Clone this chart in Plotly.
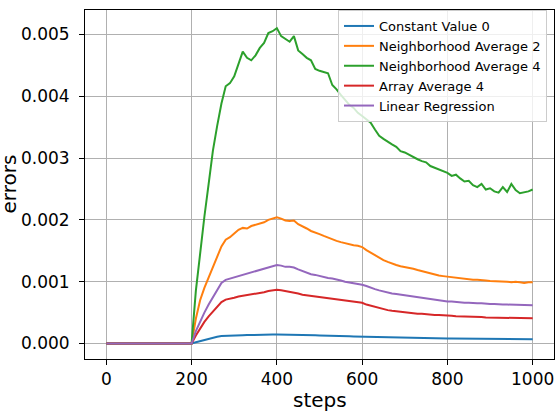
import plotly.graph_objects as go

steps = list(range(0, 1001, 10))
zeros = [0.0] * 21  # steps 0..200

constant_value_0 = zeros + [
    0.00002, 0.00004, 0.00006, 0.00008, 0.00009, 0.00011, 0.00012, 0.000125, 0.00013, 0.00013,
    0.000132, 0.000135, 0.000137, 0.00014, 0.00014, 0.00014, 0.000142, 0.000145, 0.000145, 0.000145,
    0.000145, 0.000145, 0.000143, 0.00014, 0.00014, 0.000138, 0.000137, 0.000135, 0.000133, 0.00013,
    0.00013, 0.000128, 0.000126, 0.000125, 0.000122, 0.00012, 0.000118, 0.000115, 0.000113, 0.00011,
    0.000108, 0.000105, 0.000103, 0.0001, 0.0001, 0.000098, 0.000097, 0.000095, 0.000093, 0.00009,
    0.00009, 0.000088, 0.000087, 0.000086, 0.000085, 0.000084, 0.000083, 0.000082, 0.000081, 0.00008,
    0.00008, 0.000079, 0.000078, 0.000078, 0.000077, 0.000077, 0.000076, 0.000076, 0.000075, 0.000075,
    0.000074, 0.000074, 0.000073, 0.000073, 0.000072, 0.000072, 0.000071, 0.000071, 0.00007, 0.00007,
]

neighborhood_average_2 = zeros + [
    0.00040, 0.00070, 0.00090, 0.00107, 0.00125, 0.00141, 0.00157, 0.00168, 0.00172, 0.00178,
    0.00184, 0.00187, 0.00186, 0.00190, 0.00192, 0.00194, 0.00196, 0.00200, 0.00202, 0.00204,
    0.00202, 0.00199, 0.00198, 0.00199, 0.00193, 0.00190, 0.00186, 0.00182, 0.00180, 0.00177,
    0.00174, 0.00171, 0.00169, 0.00166, 0.00164, 0.00162, 0.00161, 0.00159, 0.00158, 0.00156,
    0.00151, 0.00147, 0.00143, 0.00138, 0.00135, 0.00132, 0.00129, 0.00127, 0.00125, 0.00124,
    0.00123, 0.00121, 0.00119, 0.00117, 0.00115, 0.00114, 0.00112, 0.00110, 0.00109, 0.00108,
    0.00107, 0.00106, 0.00105, 0.00105, 0.00104, 0.00103, 0.00103, 0.00103, 0.00102, 0.00101,
    0.00101, 0.00100, 0.00101, 0.00100, 0.00099, 0.00100, 0.00099, 0.00098, 0.00099, 0.00099,
]

neighborhood_average_4 = zeros + [
    0.00085, 0.00148, 0.00205, 0.00258, 0.00312, 0.00352, 0.00388, 0.00416, 0.00421, 0.00432,
    0.00452, 0.00472, 0.00462, 0.00458, 0.00466, 0.00478, 0.00486, 0.00502, 0.00505, 0.00510,
    0.00497, 0.00492, 0.00488, 0.00497, 0.00474, 0.00468, 0.00462, 0.00458, 0.00444, 0.00441,
    0.00439, 0.00437, 0.00418, 0.00411, 0.00402, 0.00394, 0.00386, 0.00381, 0.00373, 0.00368,
    0.00362, 0.00357, 0.00346, 0.00336, 0.00331, 0.00326, 0.00322, 0.00318, 0.00311, 0.00309,
    0.00305, 0.00301, 0.00298, 0.00295, 0.00293, 0.00287, 0.00284, 0.00281, 0.00278, 0.00276,
    0.00271, 0.00273, 0.00267, 0.00262, 0.00263, 0.00256, 0.00253, 0.00258, 0.00249, 0.00251,
    0.00246, 0.00244, 0.00253, 0.00245, 0.00258, 0.00248, 0.00243, 0.00244, 0.00246, 0.00249,
]

array_average_4 = zeros + [
    0.00013, 0.00025, 0.00035, 0.00044, 0.00052, 0.00060, 0.00067, 0.00071, 0.00072, 0.00074,
    0.00076, 0.00077, 0.00078, 0.00079, 0.00080, 0.00081, 0.00083, 0.00085, 0.00086, 0.00087,
    0.00086, 0.00085, 0.00084, 0.00083, 0.00081, 0.00079, 0.00078, 0.00077, 0.00076, 0.00075,
    0.00074, 0.00073, 0.00072, 0.00071, 0.00071, 0.00070, 0.00069, 0.00068, 0.00067, 0.00066,
    0.00063, 0.00061, 0.00059, 0.00057, 0.00056, 0.00054, 0.00053, 0.00052, 0.00051, 0.00050,
    0.00049, 0.00049, 0.00048, 0.00048, 0.00047, 0.00047, 0.00046, 0.00046, 0.00046, 0.00045,
    0.00045, 0.00044, 0.00044, 0.00044, 0.00043, 0.00043, 0.00043, 0.00043, 0.00042, 0.00042,
    0.00042, 0.00042, 0.00041, 0.00042, 0.00041, 0.00041, 0.00041, 0.00041, 0.00041, 0.00041,
]

linear_regression = zeros + [
    0.00020, 0.00036, 0.00050, 0.00063, 0.00075, 0.00088, 0.00098, 0.00103, 0.00105, 0.00107,
    0.00110, 0.00112, 0.00113, 0.00115, 0.00117, 0.00119, 0.00121, 0.00124, 0.00126, 0.00127,
    0.00126, 0.00124, 0.00124, 0.00123, 0.00120, 0.00117, 0.00115, 0.00112, 0.00111, 0.00109,
    0.00107, 0.00106, 0.00105, 0.00104, 0.00102, 0.00100, 0.00099, 0.00098, 0.00096, 0.00095,
    0.00093, 0.00090, 0.00088, 0.00086, 0.00084, 0.00082, 0.00081, 0.00080, 0.00079, 0.00078,
    0.00077, 0.00076, 0.00075, 0.00074, 0.00072, 0.00071, 0.00070, 0.00069, 0.00069, 0.00068,
    0.00068, 0.00067, 0.00067, 0.00066, 0.00066, 0.00065, 0.00065, 0.00065, 0.00064, 0.00064,
    0.00064, 0.00063, 0.00063, 0.00063, 0.00063, 0.00062, 0.00063, 0.00062, 0.00062, 0.00062,
]

series_names = ["Constant Value 0", "Neighborhood Average 2", "Neighborhood Average 4",
                "Array Average 4", "Linear Regression"]
series_values = [constant_value_0, neighborhood_average_2, neighborhood_average_4,
                 array_average_4, linear_regression]
colors = ["#1f77b4", "#ff7f0e", "#2ca02c", "#d62728", "#9467bd"]

x_ticks = [0, 200, 400, 600, 800, 1000]
y_ticks = [0.000, 0.001, 0.002, 0.003, 0.004, 0.005]

FONT = "DejaVu Sans"

fig = go.Figure()
for name, vals, col in zip(series_names, series_values, colors):
    fig.add_trace(go.Scatter(x=steps, y=vals, mode="lines", name=name,
                             line=dict(color=col, width=2)))

L, R, T, B = 85, 2, 10, 53
W, H = 556, 412
pw, ph = W - L - R, H - T - B

fig.update_layout(
    width=W, height=H,
    margin=dict(l=L, r=R, t=T, b=B, pad=0),
    plot_bgcolor="white", paper_bgcolor="white",
    font=dict(family=FONT, color="black", size=17),
    showlegend=True,
    legend=dict(
        x=(547 - L) / pw, xanchor="right",
        y=(H - B - 10) / ph, yanchor="top",
        bgcolor="rgba(255,255,255,0.8)", bordercolor="#cccccc", borderwidth=1,
        font=dict(family=FONT, size=13, color="black"),
        tracegroupgap=0,
    ),
    xaxis=dict(
        range=[-50, 1050], tickvals=x_ticks, ticktext=[str(v) for v in x_ticks],
        showgrid=True, gridcolor="#b0b0b0", gridwidth=1, zeroline=False,
        showline=True, linecolor="black", linewidth=1, mirror=True,
        ticks="outside", ticklen=5, tickwidth=1, tickcolor="black",
        tickfont=dict(family=FONT, size=17, color="black"),
    ),
    yaxis=dict(
        range=[-0.000250, 0.005393], tickvals=y_ticks,
        ticktext=["%.3f" % v for v in y_ticks],
        showgrid=True, gridcolor="#b0b0b0", gridwidth=1, zeroline=False,
        showline=True, linecolor="black", linewidth=1, mirror=True,
        ticks="outside", ticklen=5, tickwidth=1, tickcolor="black",
        ticklabelstandoff=6,
        tickfont=dict(family=FONT, size=17, color="black"),
    ),
    annotations=[
        dict(text="steps", xref="paper", yref="paper",
             x=0.5, y=(H - B - 400) / ph, xanchor="center", yanchor="middle",
             showarrow=False, font=dict(family=FONT, size=20, color="black")),
        dict(text="errors", xref="paper", yref="paper",
             x=(22 - L) / pw, y=0.5, xanchor="right", yanchor="middle",
             textangle=-90, showarrow=False,
             font=dict(family=FONT, size=20, color="black")),
    ],
)

fig.write_html(
    "out.html",
    config={"displayModeBar": False},
    post_script="document.body.style.margin='0';document.body.style.padding='0';"
                "document.body.style.overflow='hidden';",
)
